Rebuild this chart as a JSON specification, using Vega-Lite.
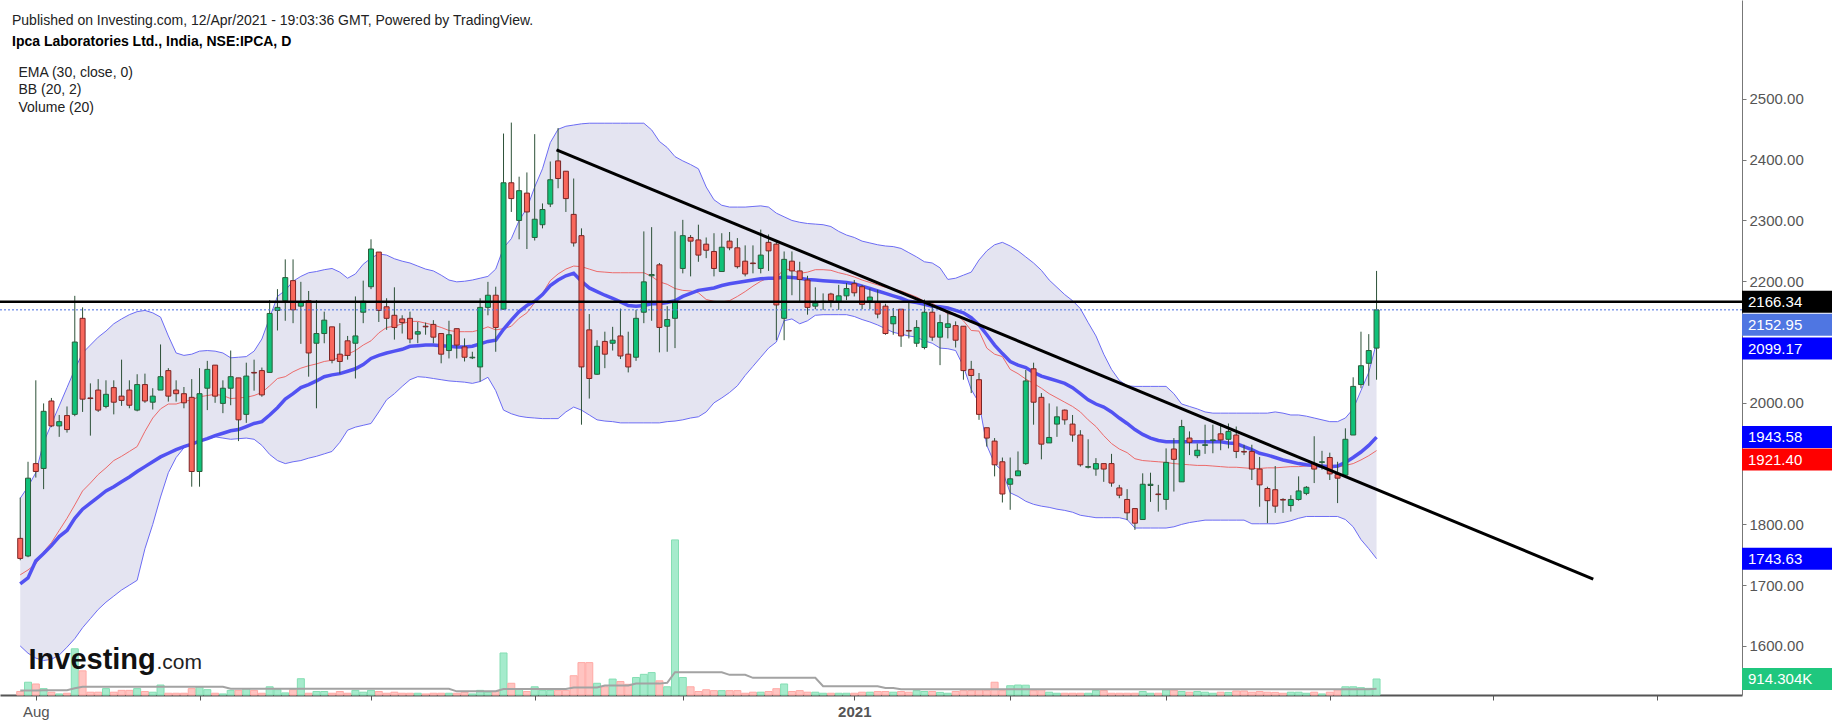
{
"$schema": "https://vega.github.io/schema/vega-lite/v6.json",
"width": 1742,
"height": 695,
"autosize": {"type": "none"},
"padding": {"left": 0, "top": 0, "right": 96, "bottom": 33},
"background": "#ffffff",
"config": {"view": {"stroke": null}, "font": "Liberation Sans", "axis": {"grid": false}},
"title": {
  "text": "Published on Investing.com, 12/Apr/2021 - 19:03:36 GMT, Powered by TradingView.",
  "subtitle": "Ipca Laboratories Ltd., India, NSE:IPCA, D",
  "anchor": "start", "frame": "group", "orient": "top", "offset": 0,
  "dx": 12, "dy": 49,
  "font": "Liberation Sans", "fontSize": 14, "fontWeight": "normal", "color": "#222222",
  "subtitleFont": "Liberation Sans", "subtitleFontSize": 14, "subtitleFontWeight": "bold", "subtitleColor": "#000000", "subtitlePadding": 7
},
"datasets": {
"bars": [
{"t":-2,"o":1777,"h":1844,"l":1741,"c":1744,"v":200,"ema":1702,"bbu":1843,"bbm":1717,"bbl":1600,"vma":250},
{"t":-1,"o":1748,"h":1903,"l":1746,"c":1876,"v":730,"ema":1712,"bbu":1862,"bbm":1725,"bbl":1588,"vma":250},
{"t":0,"o":1900,"h":2037,"l":1877,"c":1887,"v":630,"ema":1740,"bbu":1885,"bbm":1735,"bbl":1580,"vma":250},
{"t":1,"o":1892,"h":1999,"l":1858,"c":1986,"v":365,"ema":1752,"bbu":1935,"bbm":1755,"bbl":1576,"vma":270},
{"t":2,"o":2003,"h":2008,"l":1960,"c":1962,"v":160,"ema":1765,"bbu":1965,"bbm":1770,"bbl":1578,"vma":270},
{"t":3,"o":1962,"h":1980,"l":1944,"c":1969,"v":60,"ema":1780,"bbu":1995,"bbm":1790,"bbl":1585,"vma":270},
{"t":4,"o":1979,"h":1994,"l":1951,"c":1956,"v":100,"ema":1790,"bbu":2025,"bbm":1810,"bbl":1598,"vma":270},
{"t":5,"o":1981,"h":2176,"l":1978,"c":2100,"v":2640,"ema":1810,"bbu":2055,"bbm":1832,"bbl":1612,"vma":380},
{"t":6,"o":2139,"h":2157,"l":1985,"c":2006,"v":1380,"ema":1825,"bbu":2082,"bbm":1855,"bbl":1630,"vma":470},
{"t":7,"o":2008,"h":2032,"l":1946,"c":2007,"v":160,"ema":1835,"bbu":2095,"bbm":1868,"bbl":1645,"vma":470},
{"t":8,"o":2021,"h":2039,"l":1985,"c":1988,"v":160,"ema":1845,"bbu":2108,"bbm":1882,"bbl":1660,"vma":470},
{"t":9,"o":1994,"h":2037,"l":1991,"c":2014,"v":365,"ema":1855,"bbu":2118,"bbm":1893,"bbl":1672,"vma":470},
{"t":10,"o":2025,"h":2037,"l":1981,"c":2001,"v":160,"ema":1862,"bbu":2130,"bbm":1905,"bbl":1682,"vma":470},
{"t":11,"o":2011,"h":2071,"l":1995,"c":2004,"v":265,"ema":1870,"bbu":2138,"bbm":1912,"bbl":1692,"vma":470},
{"t":12,"o":2021,"h":2037,"l":1991,"c":1996,"v":265,"ema":1878,"bbu":2145,"bbm":1920,"bbl":1700,"vma":470},
{"t":13,"o":1988,"h":2047,"l":1986,"c":2030,"v":365,"ema":1887,"bbu":2150,"bbm":1928,"bbl":1708,"vma":470},
{"t":14,"o":2030,"h":2048,"l":2000,"c":2003,"v":200,"ema":1895,"bbu":2152,"bbm":1953,"bbl":1760,"vma":470},
{"t":15,"o":2001,"h":2024,"l":1989,"c":2011,"v":160,"ema":1903,"bbu":2148,"bbm":1975,"bbl":1800,"vma":470},
{"t":16,"o":2021,"h":2096,"l":2021,"c":2043,"v":570,"ema":1911,"bbu":2141,"bbm":1990,"bbl":1845,"vma":470},
{"t":17,"o":2053,"h":2057,"l":2002,"c":2011,"v":100,"ema":1917,"bbu":2110,"bbm":1998,"bbl":1885,"vma":470},
{"t":18,"o":2021,"h":2037,"l":2002,"c":2015,"v":100,"ema":1923,"bbu":2082,"bbm":1998,"bbl":1910,"vma":470},
{"t":19,"o":2015,"h":2026,"l":1991,"c":2000,"v":100,"ema":1928,"bbu":2078,"bbm":2002,"bbl":1926,"vma":470},
{"t":20,"o":2009,"h":2039,"l":1862,"c":1887,"v":365,"ema":1932,"bbu":2080,"bbm":2005,"bbl":1932,"vma":470},
{"t":21,"o":1887,"h":2057,"l":1862,"c":2015,"v":470,"ema":1937,"bbu":2085,"bbm":2010,"bbl":1936,"vma":470},
{"t":22,"o":2024,"h":2069,"l":1988,"c":2055,"v":305,"ema":1941,"bbu":2086,"bbm":2012,"bbl":1940,"vma":470},
{"t":23,"o":2062,"h":2062,"l":2000,"c":2011,"v":100,"ema":1946,"bbu":2085,"bbm":2014,"bbl":1944,"vma":470},
{"t":24,"o":1999,"h":2037,"l":1983,"c":2024,"v":60,"ema":1950,"bbu":2082,"bbm":2012,"bbl":1942,"vma":470},
{"t":25,"o":2024,"h":2086,"l":1996,"c":2043,"v":265,"ema":1954,"bbu":2074,"bbm":2007,"bbl":1940,"vma":360},
{"t":26,"o":2041,"h":2041,"l":1937,"c":1972,"v":265,"ema":1956,"bbu":2075,"bbm":2008,"bbl":1941,"vma":360},
{"t":27,"o":1981,"h":2066,"l":1967,"c":2044,"v":365,"ema":1961,"bbu":2076,"bbm":2009,"bbl":1942,"vma":360},
{"t":28,"o":2050,"h":2071,"l":2020,"c":2049,"v":265,"ema":1966,"bbu":2085,"bbm":2012,"bbl":1940,"vma":360},
{"t":29,"o":2053,"h":2058,"l":2010,"c":2013,"v":100,"ema":1969,"bbu":2105,"bbm":2017,"bbl":1930,"vma":360},
{"t":30,"o":2050,"h":2169,"l":2050,"c":2147,"v":470,"ema":1980,"bbu":2140,"bbm":2028,"bbl":1915,"vma":360},
{"t":31,"o":2152,"h":2187,"l":2119,"c":2157,"v":305,"ema":1992,"bbu":2175,"bbm":2040,"bbl":1905,"vma":360},
{"t":32,"o":2168,"h":2236,"l":2135,"c":2206,"v":120,"ema":2006,"bbu":2185,"bbm":2043,"bbl":1900,"vma":360},
{"t":33,"o":2201,"h":2236,"l":2131,"c":2153,"v":305,"ema":2015,"bbu":2200,"bbm":2051,"bbl":1903,"vma":360},
{"t":34,"o":2159,"h":2199,"l":2097,"c":2166,"v":930,"ema":2025,"bbu":2208,"bbm":2057,"bbl":1905,"vma":360},
{"t":35,"o":2168,"h":2184,"l":2043,"c":2082,"v":100,"ema":2030,"bbu":2214,"bbm":2061,"bbl":1909,"vma":360},
{"t":36,"o":2098,"h":2169,"l":1991,"c":2114,"v":200,"ema":2036,"bbu":2216,"bbm":2064,"bbl":1912,"vma":360},
{"t":37,"o":2114,"h":2150,"l":2098,"c":2136,"v":200,"ema":2043,"bbu":2219,"bbm":2068,"bbl":1916,"vma":360},
{"t":38,"o":2125,"h":2125,"l":2065,"c":2070,"v":100,"ema":2046,"bbu":2221,"bbm":2070,"bbl":1920,"vma":360},
{"t":39,"o":2080,"h":2131,"l":2048,"c":2068,"v":200,"ema":2048,"bbu":2215,"bbm":2075,"bbl":1935,"vma":360},
{"t":40,"o":2102,"h":2110,"l":2071,"c":2078,"v":100,"ema":2052,"bbu":2205,"bbm":2080,"bbl":1955,"vma":360},
{"t":41,"o":2098,"h":2175,"l":2040,"c":2110,"v":265,"ema":2056,"bbu":2212,"bbm":2086,"bbl":1960,"vma":360},
{"t":42,"o":2149,"h":2201,"l":2131,"c":2167,"v":160,"ema":2063,"bbu":2228,"bbm":2095,"bbl":1963,"vma":360},
{"t":43,"o":2191,"h":2269,"l":2187,"c":2253,"v":265,"ema":2073,"bbu":2238,"bbm":2102,"bbl":1966,"vma":360},
{"t":44,"o":2248,"h":2248,"l":2133,"c":2152,"v":200,"ema":2078,"bbu":2245,"bbm":2115,"bbl":1985,"vma":360},
{"t":45,"o":2158,"h":2172,"l":2120,"c":2139,"v":100,"ema":2082,"bbu":2243,"bbm":2124,"bbl":2005,"vma":360},
{"t":46,"o":2144,"h":2190,"l":2104,"c":2124,"v":160,"ema":2085,"bbu":2237,"bbm":2126,"bbl":2015,"vma":360},
{"t":47,"o":2138,"h":2144,"l":2114,"c":2132,"v":100,"ema":2088,"bbu":2233,"bbm":2130,"bbl":2027,"vma":360},
{"t":48,"o":2139,"h":2150,"l":2098,"c":2105,"v":100,"ema":2093,"bbu":2230,"bbm":2134,"bbl":2038,"vma":360},
{"t":49,"o":2113,"h":2133,"l":2098,"c":2117,"v":100,"ema":2094,"bbu":2225,"bbm":2134,"bbl":2043,"vma":360},
{"t":50,"o":2126,"h":2132,"l":2112,"c":2125,"v":60,"ema":2095,"bbu":2220,"bbm":2131,"bbl":2042,"vma":360},
{"t":51,"o":2129,"h":2136,"l":2098,"c":2108,"v":100,"ema":2095,"bbu":2217,"bbm":2128,"bbl":2040,"vma":360},
{"t":52,"o":2114,"h":2114,"l":2065,"c":2080,"v":100,"ema":2094,"bbu":2210,"bbm":2124,"bbl":2038,"vma":360},
{"t":53,"o":2086,"h":2135,"l":2073,"c":2112,"v":100,"ema":2093,"bbu":2202,"bbm":2119,"bbl":2036,"vma":360},
{"t":54,"o":2122,"h":2122,"l":2073,"c":2095,"v":100,"ema":2092,"bbu":2199,"bbm":2117,"bbl":2035,"vma":210},
{"t":55,"o":2092,"h":2106,"l":2068,"c":2075,"v":160,"ema":2092,"bbu":2200,"bbm":2117,"bbl":2034,"vma":210},
{"t":56,"o":2074,"h":2084,"l":2072,"c":2075,"v":60,"ema":2093,"bbu":2202,"bbm":2117,"bbl":2032,"vma":210},
{"t":57,"o":2059,"h":2172,"l":2035,"c":2157,"v":265,"ema":2097,"bbu":2205,"bbm":2120,"bbl":2035,"vma":210},
{"t":58,"o":2157,"h":2199,"l":2144,"c":2177,"v":160,"ema":2101,"bbu":2208,"bbm":2125,"bbl":2042,"vma":210},
{"t":59,"o":2177,"h":2191,"l":2084,"c":2124,"v":200,"ema":2103,"bbu":2220,"bbm":2120,"bbl":2020,"vma":210},
{"t":60,"o":2154,"h":2443,"l":2154,"c":2362,"v":2400,"ema":2121,"bbu":2255,"bbm":2122,"bbl":1988,"vma":340},
{"t":61,"o":2362,"h":2461,"l":2314,"c":2336,"v":670,"ema":2136,"bbu":2270,"bbm":2126,"bbl":1982,"vma":340},
{"t":62,"o":2300,"h":2372,"l":2269,"c":2349,"v":365,"ema":2150,"bbu":2300,"bbm":2139,"bbl":1978,"vma":340},
{"t":63,"o":2345,"h":2379,"l":2253,"c":2314,"v":200,"ema":2160,"bbu":2320,"bbm":2148,"bbl":1976,"vma":340},
{"t":64,"o":2272,"h":2442,"l":2267,"c":2302,"v":470,"ema":2167,"bbu":2355,"bbm":2165,"bbl":1975,"vma":340},
{"t":65,"o":2293,"h":2328,"l":2287,"c":2318,"v":265,"ema":2178,"bbu":2385,"bbm":2180,"bbl":1974,"vma":340},
{"t":66,"o":2327,"h":2397,"l":2322,"c":2367,"v":265,"ema":2193,"bbu":2428,"bbm":2201,"bbl":1974,"vma":340},
{"t":67,"o":2398,"h":2452,"l":2353,"c":2369,"v":265,"ema":2202,"bbu":2450,"bbm":2212,"bbl":1974,"vma":340},
{"t":68,"o":2381,"h":2381,"l":2314,"c":2336,"v":265,"ema":2209,"bbu":2455,"bbm":2220,"bbl":1985,"vma":340},
{"t":69,"o":2310,"h":2369,"l":2257,"c":2263,"v":1100,"ema":2213,"bbu":2457,"bbm":2225,"bbl":1993,"vma":430},
{"t":70,"o":2275,"h":2287,"l":1964,"c":2059,"v":1850,"ema":2200,"bbu":2459,"bbm":2224,"bbl":1988,"vma":430},
{"t":71,"o":2120,"h":2146,"l":2007,"c":2040,"v":1850,"ema":2189,"bbu":2460,"bbm":2220,"bbl":1980,"vma":430},
{"t":72,"o":2047,"h":2103,"l":2046,"c":2093,"v":670,"ema":2183,"bbu":2460,"bbm":2216,"bbl":1972,"vma":430},
{"t":73,"o":2101,"h":2117,"l":2057,"c":2080,"v":470,"ema":2177,"bbu":2460,"bbm":2215,"bbl":1970,"vma":540},
{"t":74,"o":2098,"h":2125,"l":2086,"c":2103,"v":910,"ema":2172,"bbu":2460,"bbm":2214,"bbl":1969,"vma":540},
{"t":75,"o":2110,"h":2155,"l":2072,"c":2077,"v":770,"ema":2166,"bbu":2460,"bbm":2214,"bbl":1967,"vma":540},
{"t":76,"o":2080,"h":2117,"l":2050,"c":2059,"v":610,"ema":2160,"bbu":2460,"bbm":2214,"bbl":1967,"vma":540},
{"t":77,"o":2075,"h":2153,"l":2069,"c":2139,"v":1000,"ema":2159,"bbu":2460,"bbm":2214,"bbl":1967,"vma":650},
{"t":78,"o":2149,"h":2282,"l":2131,"c":2199,"v":1180,"ema":2160,"bbu":2460,"bbm":2214,"bbl":1967,"vma":650},
{"t":79,"o":2209,"h":2289,"l":2135,"c":2211,"v":1280,"ema":2163,"bbu":2449,"bbm":2208,"bbl":1967,"vma":650},
{"t":80,"o":2227,"h":2230,"l":2083,"c":2124,"v":810,"ema":2163,"bbu":2430,"bbm":2199,"bbl":1967,"vma":650},
{"t":81,"o":2126,"h":2159,"l":2084,"c":2137,"v":470,"ema":2165,"bbu":2420,"bbm":2195,"bbl":1969,"vma":700},
{"t":82,"o":2139,"h":2282,"l":2090,"c":2166,"v":8860,"ema":2168,"bbu":2405,"bbm":2188,"bbl":1970,"vma":1300},
{"t":83,"o":2221,"h":2301,"l":2213,"c":2275,"v":1000,"ema":2175,"bbu":2398,"bbm":2185,"bbl":1972,"vma":1300},
{"t":84,"o":2272,"h":2276,"l":2208,"c":2266,"v":470,"ema":2180,"bbu":2392,"bbm":2184,"bbl":1975,"vma":1300},
{"t":85,"o":2268,"h":2293,"l":2232,"c":2243,"v":200,"ema":2185,"bbu":2385,"bbm":2181,"bbl":1977,"vma":1300},
{"t":86,"o":2261,"h":2272,"l":2238,"c":2251,"v":300,"ema":2187,"bbu":2355,"bbm":2170,"bbl":1985,"vma":1300},
{"t":87,"o":2249,"h":2279,"l":2208,"c":2221,"v":250,"ema":2189,"bbu":2334,"bbm":2167,"bbl":2000,"vma":1300},
{"t":88,"o":2216,"h":2279,"l":2216,"c":2256,"v":250,"ema":2193,"bbu":2325,"bbm":2166,"bbl":2008,"vma":1300},
{"t":89,"o":2266,"h":2281,"l":2251,"c":2255,"v":250,"ema":2196,"bbu":2322,"bbm":2168,"bbl":2017,"vma":1150},
{"t":90,"o":2255,"h":2271,"l":2221,"c":2224,"v":250,"ema":2198,"bbu":2322,"bbm":2175,"bbl":2028,"vma":1150},
{"t":91,"o":2233,"h":2259,"l":2208,"c":2212,"v":100,"ema":2200,"bbu":2322,"bbm":2183,"bbl":2045,"vma":1150},
{"t":92,"o":2230,"h":2259,"l":2213,"c":2229,"v":160,"ema":2202,"bbu":2323,"bbm":2192,"bbl":2060,"vma":980},
{"t":93,"o":2221,"h":2285,"l":2213,"c":2243,"v":160,"ema":2204,"bbu":2324,"bbm":2200,"bbl":2075,"vma":980},
{"t":94,"o":2264,"h":2277,"l":2217,"c":2250,"v":200,"ema":2205,"bbu":2322,"bbm":2206,"bbl":2090,"vma":980},
{"t":95,"o":2261,"h":2265,"l":2103,"c":2161,"v":360,"ema":2205,"bbu":2312,"bbm":2206,"bbl":2100,"vma":980},
{"t":96,"o":2139,"h":2249,"l":2103,"c":2236,"v":630,"ema":2207,"bbu":2306,"bbm":2220,"bbl":2135,"vma":980},
{"t":97,"o":2233,"h":2249,"l":2177,"c":2217,"v":200,"ema":2206,"bbu":2300,"bbm":2219,"bbl":2138,"vma":980},
{"t":98,"o":2217,"h":2232,"l":2166,"c":2203,"v":250,"ema":2205,"bbu":2297,"bbm":2213,"bbl":2130,"vma":980},
{"t":99,"o":2202,"h":2209,"l":2145,"c":2157,"v":160,"ema":2203,"bbu":2295,"bbm":2215,"bbl":2135,"vma":980},
{"t":100,"o":2159,"h":2190,"l":2154,"c":2164,"v":160,"ema":2202,"bbu":2294,"bbm":2219,"bbl":2144,"vma":980},
{"t":101,"o":2166,"h":2180,"l":2153,"c":2167,"v":100,"ema":2201,"bbu":2293,"bbm":2219,"bbl":2145,"vma":500},
{"t":102,"o":2179,"h":2181,"l":2157,"c":2168,"v":100,"ema":2200,"bbu":2290,"bbm":2218,"bbl":2145,"vma":500},
{"t":103,"o":2166,"h":2194,"l":2153,"c":2176,"v":100,"ema":2199,"bbu":2282,"bbm":2214,"bbl":2145,"vma":500},
{"t":104,"o":2176,"h":2197,"l":2169,"c":2188,"v":100,"ema":2198,"bbu":2276,"bbm":2211,"bbl":2145,"vma":500},
{"t":105,"o":2196,"h":2202,"l":2175,"c":2181,"v":100,"ema":2196,"bbu":2272,"bbm":2207,"bbl":2142,"vma":500},
{"t":106,"o":2191,"h":2194,"l":2154,"c":2162,"v":160,"ema":2192,"bbu":2266,"bbm":2202,"bbl":2137,"vma":500},
{"t":107,"o":2168,"h":2188,"l":2154,"c":2174,"v":160,"ema":2188,"bbu":2263,"bbm":2198,"bbl":2133,"vma":500},
{"t":108,"o":2165,"h":2186,"l":2139,"c":2146,"v":200,"ema":2184,"bbu":2260,"bbm":2194,"bbl":2128,"vma":500},
{"t":109,"o":2159,"h":2163,"l":2112,"c":2114,"v":200,"ema":2180,"bbu":2258,"bbm":2190,"bbl":2122,"vma":400},
{"t":110,"o":2130,"h":2156,"l":2112,"c":2142,"v":160,"ema":2176,"bbu":2257,"bbm":2187,"bbl":2116,"vma":400},
{"t":111,"o":2154,"h":2154,"l":2092,"c":2110,"v":200,"ema":2172,"bbu":2254,"bbm":2184,"bbl":2113,"vma":330},
{"t":112,"o":2119,"h":2166,"l":2106,"c":2118,"v":160,"ema":2167,"bbu":2247,"bbm":2179,"bbl":2110,"vma":330},
{"t":113,"o":2098,"h":2136,"l":2092,"c":2124,"v":250,"ema":2165,"bbu":2240,"bbm":2174,"bbl":2108,"vma":330},
{"t":114,"o":2091,"h":2170,"l":2088,"c":2149,"v":200,"ema":2162,"bbu":2232,"bbm":2167,"bbl":2102,"vma":330},
{"t":115,"o":2149,"h":2163,"l":2102,"c":2108,"v":200,"ema":2159,"bbu":2230,"bbm":2164,"bbl":2098,"vma":330},
{"t":116,"o":2108,"h":2145,"l":2062,"c":2132,"v":150,"ema":2158,"bbu":2222,"bbm":2156,"bbl":2090,"vma":330},
{"t":117,"o":2124,"h":2150,"l":2106,"c":2130,"v":100,"ema":2156,"bbu":2203,"bbm":2146,"bbl":2089,"vma":330},
{"t":118,"o":2127,"h":2134,"l":2091,"c":2103,"v":200,"ema":2152,"bbu":2205,"bbm":2146,"bbl":2086,"vma":330},
{"t":119,"o":2126,"h":2126,"l":2038,"c":2053,"v":250,"ema":2148,"bbu":2210,"bbm":2135,"bbl":2060,"vma":330},
{"t":120,"o":2055,"h":2069,"l":2016,"c":2045,"v":250,"ema":2140,"bbu":2215,"bbm":2119,"bbl":2022,"vma":330},
{"t":121,"o":2038,"h":2049,"l":1972,"c":1981,"v":300,"ema":2128,"bbu":2235,"bbm":2118,"bbl":2000,"vma":330},
{"t":122,"o":1959,"h":1959,"l":1928,"c":1942,"v":250,"ema":2112,"bbu":2250,"bbm":2090,"bbl":1930,"vma":330},
{"t":123,"o":1937,"h":1942,"l":1879,"c":1898,"v":730,"ema":2095,"bbu":2260,"bbm":2080,"bbl":1900,"vma":330},
{"t":124,"o":1903,"h":1910,"l":1836,"c":1850,"v":250,"ema":2081,"bbu":2264,"bbm":2076,"bbl":1888,"vma":330},
{"t":125,"o":1866,"h":1910,"l":1824,"c":1875,"v":530,"ema":2068,"bbu":2258,"bbm":2055,"bbl":1852,"vma":330},
{"t":126,"o":1880,"h":1920,"l":1880,"c":1888,"v":570,"ema":2062,"bbu":2250,"bbm":2048,"bbl":1846,"vma":330},
{"t":127,"o":1900,"h":2054,"l":1898,"c":2036,"v":560,"ema":2058,"bbu":2240,"bbm":2039,"bbl":1838,"vma":330},
{"t":128,"o":2056,"h":2066,"l":1964,"c":2001,"v":250,"ema":2050,"bbu":2230,"bbm":2032,"bbl":1833,"vma":330},
{"t":129,"o":2009,"h":2016,"l":1907,"c":1932,"v":300,"ema":2044,"bbu":2218,"bbm":2024,"bbl":1830,"vma":330},
{"t":130,"o":1934,"h":1999,"l":1934,"c":1943,"v":160,"ema":2040,"bbu":2202,"bbm":2015,"bbl":1828,"vma":330},
{"t":131,"o":1965,"h":1994,"l":1944,"c":1977,"v":100,"ema":2036,"bbu":2190,"bbm":2008,"bbl":1825,"vma":330},
{"t":132,"o":1988,"h":1989,"l":1964,"c":1972,"v":100,"ema":2032,"bbu":2178,"bbm":2001,"bbl":1823,"vma":330},
{"t":133,"o":1965,"h":1980,"l":1936,"c":1947,"v":100,"ema":2025,"bbu":2168,"bbm":1994,"bbl":1820,"vma":330},
{"t":134,"o":1947,"h":1955,"l":1895,"c":1898,"v":100,"ema":2015,"bbu":2155,"bbm":1985,"bbl":1815,"vma":330},
{"t":135,"o":1894,"h":1940,"l":1892,"c":1895,"v":100,"ema":2005,"bbu":2132,"bbm":1972,"bbl":1813,"vma":330},
{"t":136,"o":1891,"h":1909,"l":1880,"c":1900,"v":260,"ema":1998,"bbu":2110,"bbm":1961,"bbl":1811,"vma":330},
{"t":137,"o":1900,"h":1900,"l":1870,"c":1891,"v":260,"ema":1993,"bbu":2080,"bbm":1946,"bbl":1811,"vma":330},
{"t":138,"o":1900,"h":1916,"l":1862,"c":1868,"v":100,"ema":1985,"bbu":2055,"bbm":1933,"bbl":1811,"vma":330},
{"t":139,"o":1860,"h":1865,"l":1843,"c":1848,"v":100,"ema":1975,"bbu":2037,"bbm":1924,"bbl":1811,"vma":330},
{"t":140,"o":1841,"h":1858,"l":1807,"c":1819,"v":100,"ema":1966,"bbu":2028,"bbm":1918,"bbl":1808,"vma":330},
{"t":141,"o":1826,"h":1826,"l":1791,"c":1802,"v":100,"ema":1956,"bbu":2027,"bbm":1908,"bbl":1794,"vma":330},
{"t":142,"o":1808,"h":1884,"l":1808,"c":1866,"v":200,"ema":1948,"bbu":2027,"bbm":1905,"bbl":1794,"vma":330},
{"t":143,"o":1864,"h":1885,"l":1837,"c":1866,"v":100,"ema":1942,"bbu":2027,"bbm":1904,"bbl":1794,"vma":330},
{"t":144,"o":1850,"h":1865,"l":1821,"c":1849,"v":100,"ema":1938,"bbu":2027,"bbm":1903,"bbl":1794,"vma":330},
{"t":145,"o":1841,"h":1925,"l":1824,"c":1902,"v":300,"ema":1936,"bbu":2027,"bbm":1902,"bbl":1794,"vma":330},
{"t":146,"o":1924,"h":1942,"l":1854,"c":1907,"v":270,"ema":1936,"bbu":2015,"bbm":1900,"bbl":1796,"vma":330},
{"t":147,"o":1870,"h":1972,"l":1870,"c":1961,"v":200,"ema":1936,"bbu":1998,"bbm":1899,"bbl":1800,"vma":330},
{"t":148,"o":1942,"h":1953,"l":1914,"c":1935,"v":160,"ema":1936,"bbu":1994,"bbm":1898,"bbl":1803,"vma":330},
{"t":149,"o":1913,"h":1933,"l":1909,"c":1922,"v":200,"ema":1936,"bbu":1990,"bbm":1897,"bbl":1805,"vma":330},
{"t":150,"o":1930,"h":1964,"l":1916,"c":1931,"v":160,"ema":1936,"bbu":1985,"bbm":1897,"bbl":1807,"vma":330},
{"t":151,"o":1938,"h":1964,"l":1917,"c":1939,"v":100,"ema":1936,"bbu":1983,"bbm":1896,"bbl":1807,"vma":330},
{"t":152,"o":1949,"h":1966,"l":1922,"c":1939,"v":160,"ema":1936,"bbu":1983,"bbm":1895,"bbl":1807,"vma":330},
{"t":153,"o":1940,"h":1966,"l":1925,"c":1953,"v":150,"ema":1934,"bbu":1983,"bbm":1894,"bbl":1807,"vma":330},
{"t":154,"o":1947,"h":1961,"l":1909,"c":1920,"v":230,"ema":1933,"bbu":1983,"bbm":1894,"bbl":1807,"vma":330},
{"t":155,"o":1920,"h":1931,"l":1914,"c":1919,"v":230,"ema":1928,"bbu":1983,"bbm":1893,"bbl":1807,"vma":330},
{"t":156,"o":1920,"h":1931,"l":1873,"c":1891,"v":160,"ema":1923,"bbu":1983,"bbm":1892,"bbl":1801,"vma":330},
{"t":157,"o":1891,"h":1911,"l":1829,"c":1865,"v":200,"ema":1917,"bbu":1983,"bbm":1892,"bbl":1801,"vma":330},
{"t":158,"o":1859,"h":1862,"l":1802,"c":1839,"v":160,"ema":1914,"bbu":1983,"bbm":1893,"bbl":1801,"vma":330},
{"t":159,"o":1857,"h":1896,"l":1819,"c":1830,"v":150,"ema":1910,"bbu":1985,"bbm":1893,"bbl":1801,"vma":330},
{"t":160,"o":1841,"h":1843,"l":1819,"c":1840,"v":100,"ema":1906,"bbu":1983,"bbm":1894,"bbl":1803,"vma":330},
{"t":161,"o":1831,"h":1848,"l":1821,"c":1841,"v":160,"ema":1903,"bbu":1980,"bbm":1895,"bbl":1806,"vma":330},
{"t":162,"o":1841,"h":1879,"l":1839,"c":1855,"v":160,"ema":1900,"bbu":1980,"bbm":1895,"bbl":1810,"vma":330},
{"t":163,"o":1851,"h":1863,"l":1848,"c":1861,"v":100,"ema":1898,"bbu":1978,"bbm":1896,"bbl":1813,"vma":330},
{"t":164,"o":1900,"h":1945,"l":1868,"c":1891,"v":160,"ema":1897,"bbu":1975,"bbm":1896,"bbl":1813,"vma":330},
{"t":165,"o":1902,"h":1921,"l":1890,"c":1903,"v":60,"ema":1896,"bbu":1972,"bbm":1895,"bbl":1813,"vma":330},
{"t":166,"o":1910,"h":1918,"l":1873,"c":1883,"v":160,"ema":1895,"bbu":1969,"bbm":1894,"bbl":1813,"vma":330},
{"t":167,"o":1882,"h":1903,"l":1835,"c":1876,"v":300,"ema":1896,"bbu":1969,"bbm":1894,"bbl":1813,"vma":330},
{"t":168,"o":1881,"h":1958,"l":1878,"c":1940,"v":470,"ema":1902,"bbu":1975,"bbm":1897,"bbl":1808,"vma":330},
{"t":169,"o":1947,"h":2042,"l":1947,"c":2027,"v":470,"ema":1910,"bbu":1990,"bbm":1900,"bbl":1796,"vma":330},
{"t":170,"o":2030,"h":2117,"l":2024,"c":2061,"v":420,"ema":1919,"bbu":2020,"bbm":1906,"bbl":1775,"vma":330},
{"t":171,"o":2065,"h":2113,"l":2028,"c":2086,"v":380,"ema":1930,"bbu":2050,"bbm":1913,"bbl":1760,"vma":330},
{"t":172,"o":2090,"h":2217,"l":2038,"c":2152.95,"v":914.304,"ema":1943.58,"bbu":2099.17,"bbm":1921.4,"bbl":1743.63,"vma":360}
],
"levels": [
{"kind":"line","price":2166.34},
{"kind":"last","price":2152.95},
{"kind":"bbu","price":2099.17},
{"kind":"ema","price":1943.58},
{"kind":"bbm","price":1921.40},
{"kind":"bbl","price":1743.63}
],
"vlabel": [{"v": 914.304}],
"trend": [{"t": 66.8, "p": 2416}, {"t": 199.8, "p": 1710}]
},
"layer": [
{
  "layer": [
    {"data": {"name": "bars"},
     "mark": {"type": "area", "color": "#e4e4f1", "opacity": 1},
     "encoding": {
       "x": {"field": "t", "type": "quantitative", "scale": {"domain": [-3.954, 218.24], "nice": false, "zero": false},
             "axis": {"values": [0,21,43,64,83,105,125,145,166,187,208],
                      "labelExpr": "datum.value == 0 ? 'Aug' : (datum.value == 105 ? '2021' : '')",
                      "labelFontSize": 15, "labelColor": "#555555", "labelFont": "Liberation Sans",
                      "labelFontWeight": {"condition": {"test": "datum.value == 105", "value": "bold"}, "value": "normal"},
                      "labelOverlap": false, "labelFlush": false, "labelPadding": 4,
                      "tickSize": 5, "tickColor": "#555555", "domainColor": "#555555", "domainWidth": 2,
                      "title": ["EMA (30, close, 0)", "BB (20, 2)", "Volume (20)"],
                      "titleX": 18, "titleY": -630, "titleAlign": "left", "titleAnchor": "start", "titleBaseline": "top",
                      "titleFontSize": 14, "titleFontWeight": "normal", "titleColor": "#222222", "titleFont": "Liberation Sans", "titleLineHeight": 17.5}},
       "y": {"field": "bbl", "type": "quantitative", "scale": {"domain": [1519.3, 2662.7], "nice": false, "zero": false},
             "axis": {"orient": "right", "values": [1600,1700,1800,2000,2200,2300,2400,2500], "format": ".2f",
                      "labelFontSize": 15, "labelColor": "#555555", "labelFont": "Liberation Sans", "labelPadding": 3,
                      "tickSize": 4, "tickColor": "#777777", "domainColor": "#777777", "domainWidth": 1,
                      "title": ".com", "titleX": -1586, "titleY": 668, "titleAngle": 0, "titleAlign": "left", "titleBaseline": "alphabetic",
                      "titleFontSize": 21, "titleFontWeight": "normal", "titleColor": "#222222", "titleFont": "Liberation Sans", "zindex": 0}},
       "y2": {"field": "bbu"}
     }},
    {"data": {"name": "bars"}, "mark": {"type": "line", "color": "#6c6cf4", "strokeWidth": 1},
     "encoding": {"x": {"field": "t", "type": "quantitative", "scale": {"domain": [-3.954, 218.24], "nice": false, "zero": false}},
                  "y": {"field": "bbu", "type": "quantitative", "scale": {"domain": [1519.3, 2662.7], "nice": false, "zero": false}}}},
    {"data": {"name": "bars"}, "mark": {"type": "line", "color": "#6c6cf4", "strokeWidth": 1},
     "encoding": {"x": {"field": "t", "type": "quantitative", "scale": {"domain": [-3.954, 218.24], "nice": false, "zero": false}},
                  "y": {"field": "bbl", "type": "quantitative", "scale": {"domain": [1519.3, 2662.7], "nice": false, "zero": false}}}},
    {"data": {"name": "bars"}, "mark": {"type": "line", "color": "#ec6a6a", "strokeWidth": 1},
     "encoding": {"x": {"field": "t", "type": "quantitative", "scale": {"domain": [-3.954, 218.24], "nice": false, "zero": false}},
                  "y": {"field": "bbm", "type": "quantitative", "scale": {"domain": [1519.3, 2662.7], "nice": false, "zero": false}}}},
    {"data": {"name": "bars"}, "mark": {"type": "line", "color": "#5252f2", "strokeWidth": 3.5},
     "encoding": {"x": {"field": "t", "type": "quantitative", "scale": {"domain": [-3.954, 218.24], "nice": false, "zero": false}},
                  "y": {"field": "ema", "type": "quantitative", "scale": {"domain": [1519.3, 2662.7], "nice": false, "zero": false}}}},
    {"data": {"name": "bars"}, "mark": {"type": "rule", "color": "#2d5138", "strokeWidth": 1},
     "encoding": {"x": {"field": "t", "type": "quantitative", "scale": {"domain": [-3.954, 218.24], "nice": false, "zero": false}},
                  "y": {"field": "l", "type": "quantitative", "scale": {"domain": [1519.3, 2662.7], "nice": false, "zero": false}},
                  "y2": {"field": "h"}}},
    {"data": {"name": "bars"}, "mark": {"type": "bar", "size": 5, "strokeWidth": 1, "orient": "vertical"},
     "encoding": {"x": {"field": "t", "type": "quantitative", "scale": {"domain": [-3.954, 218.24], "nice": false, "zero": false}},
                  "y": {"field": "o", "type": "quantitative", "scale": {"domain": [1519.3, 2662.7], "nice": false, "zero": false}},
                  "y2": {"field": "c"},
                  "fill": {"condition": {"test": "datum.c >= datum.o", "value": "#10c179"}, "value": "#f9675c"},
                  "stroke": {"condition": {"test": "datum.c >= datum.o", "value": "#2a5e3b"}, "value": "#7c2424"}}},
    {"data": {"name": "levels"}, "transform": [{"filter": "datum.kind == 'line'"}],
     "mark": {"type": "rule", "color": "#000000", "strokeWidth": 2.5},
     "encoding": {"y": {"field": "price", "type": "quantitative", "scale": {"domain": [1519.3, 2662.7], "nice": false, "zero": false}}}},
    {"data": {"name": "levels"}, "transform": [{"filter": "datum.kind == 'last'"}],
     "mark": {"type": "rule", "color": "#4a6fe3", "strokeWidth": 1, "strokeDash": [2, 2]},
     "encoding": {"y": {"field": "price", "type": "quantitative", "scale": {"domain": [1519.3, 2662.7], "nice": false, "zero": false}}}},
    {"data": {"name": "trend"}, "mark": {"type": "line", "color": "#000000", "strokeWidth": 3},
     "encoding": {"x": {"field": "t", "type": "quantitative", "scale": {"domain": [-3.954, 218.24], "nice": false, "zero": false}},
                  "y": {"field": "p", "type": "quantitative", "scale": {"domain": [1519.3, 2662.7], "nice": false, "zero": false}}}},
    {"data": {"name": "levels"},
     "mark": {"type": "tick", "orient": "horizontal", "size": 90, "thickness": 22, "xOffset": 45, "opacity": 1,
              "yOffset": {"expr": "datum.kind == 'last' ? 15 : (datum.kind == 'bbu' ? 6 : (datum.kind == 'bbm' ? 9 : 0))"}},
     "encoding": {"x": {"value": "width"},
                  "y": {"field": "price", "type": "quantitative", "scale": {"domain": [1519.3, 2662.7], "nice": false, "zero": false}},
                  "color": {"field": "kind", "type": "nominal", "legend": null,
                            "scale": {"domain": ["line","last","bbu","ema","bbm","bbl"], "range": ["#000000","#4f76e2","#0000ff","#0000ff","#ff0000","#0000ff"]}}}},
    {"data": {"name": "levels"},
     "mark": {"type": "text", "align": "left", "baseline": "middle", "dx": 6, "fontSize": 15, "color": "#ffffff", "font": "Liberation Sans",
              "yOffset": {"expr": "datum.kind == 'last' ? 15 : (datum.kind == 'bbu' ? 6 : (datum.kind == 'bbm' ? 9 : 0))"}},
     "encoding": {"x": {"value": "width"},
                  "y": {"field": "price", "type": "quantitative", "scale": {"domain": [1519.3, 2662.7], "nice": false, "zero": false}},
                  "text": {"field": "price", "type": "quantitative", "format": ".2f"}}}
  ]
},
{
  "layer": [
    {"data": {"name": "bars"}, "mark": {"type": "bar", "size": 7, "strokeWidth": 1, "orient": "vertical"},
     "encoding": {"x": {"field": "t", "type": "quantitative", "scale": {"domain": [-3.954, 218.24], "nice": false, "zero": false}},
                  "y": {"field": "v", "type": "quantitative", "stack": null, "scale": {"domain": [0, 39700], "nice": false, "zero": true},
                        "axis": {"orient": "left", "labels": false, "ticks": false, "domain": false, "grid": false,
                                 "title": "Investing", "titleX": 28, "titleY": 668, "titleAngle": 0, "titleAlign": "left", "titleBaseline": "alphabetic",
                                 "titleFontSize": 29, "titleFontWeight": "bold", "titleColor": "#111111", "titleFont": "Liberation Sans", "zindex": 1}},
                  "fill": {"condition": {"test": "datum.c >= datum.o", "value": "#a5ebcc"}, "value": "#ffc4c1"},
                  "stroke": {"condition": {"test": "datum.c >= datum.o", "value": "#84deb3"}, "value": "#ffa9a5"}}},
    {"data": {"name": "bars"}, "mark": {"type": "line", "color": "#a3a3a3", "strokeWidth": 2},
     "encoding": {"x": {"field": "t", "type": "quantitative", "scale": {"domain": [-3.954, 218.24], "nice": false, "zero": false}},
                  "y": {"field": "vma", "type": "quantitative", "scale": {"domain": [0, 39700], "nice": false, "zero": true}}}},
    {"data": {"name": "vlabel"},
     "mark": {"type": "tick", "orient": "horizontal", "size": 90, "thickness": 22, "xOffset": 45, "color": "#1fc77e", "opacity": 1},
     "encoding": {"x": {"value": "width"},
                  "y": {"field": "v", "type": "quantitative", "scale": {"domain": [0, 39700], "nice": false, "zero": true}}}},
    {"data": {"name": "vlabel"},
     "transform": [{"calculate": "format(datum.v, '.3f') + 'K'", "as": "label"}],
     "mark": {"type": "text", "align": "left", "baseline": "middle", "dx": 6, "fontSize": 15, "color": "#ffffff", "font": "Liberation Sans"},
     "encoding": {"x": {"value": "width"},
                  "y": {"field": "v", "type": "quantitative", "scale": {"domain": [0, 39700], "nice": false, "zero": true}},
                  "text": {"field": "label", "type": "nominal"}}}
  ]
}
],
"resolve": {"scale": {"y": "independent"}, "axis": {"y": "independent"}}
}
